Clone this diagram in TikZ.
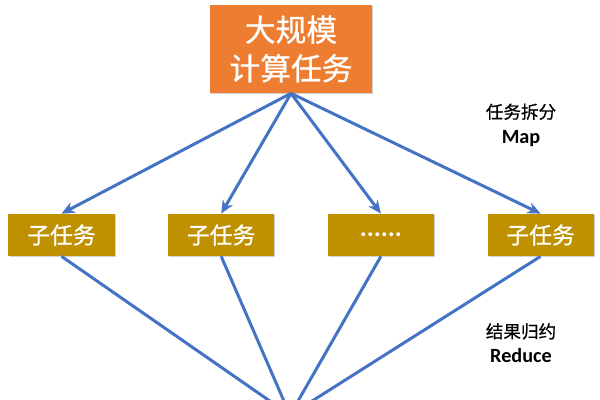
\documentclass[tikz,border=0pt]{standalone}
\usepackage{fontspec}
\setmainfont{Carlito}
\newfontfamily\cjk[FakeBold=0.7]{Noto Sans CJK SC}
\usepackage{xcolor}
\usetikzlibrary{arrows.meta, positioning, shadows}

\definecolor{taskorange}{HTML}{ED7D31}
\definecolor{subgold}{HTML}{BF9000}
\definecolor{linkblue}{HTML}{4472C4}

\begin{document}
\begin{tikzpicture}[
    node distance=1.06cm and 1.06cm,
    every node/.style={font=\cjk},
    box/.style={rectangle, text=white, align=center, inner sep=0pt,
        drop shadow={opacity=0.35, shadow xshift=0.6pt, shadow yshift=-0.8pt}},
    bigtask/.style={box, fill=taskorange, minimum width=3.24cm, minimum height=1.76cm,
        font=\cjk\fontsize{17.5pt}{22pt}\selectfont},
    subtask/.style={box, fill=subgold, minimum width=2.12cm, minimum height=0.84cm,
        font=\cjk\fontsize{13pt}{15pt}\selectfont},
    phase/.style={align=center, font=\cjk\fontsize{10pt}{14pt}\selectfont},
    arrow/.style={-{Stealth[length=7.5pt, width=6.5pt]}, linkblue, line width=1.7pt},
]
\useasboundingbox (0,0) rectangle (12,-8);

% === SPLIT ===
\node[bigtask] (job) at (5.82,-0.98) {大规模\\计算任务};

\node[subtask] (s1) at (1.23,-4.7) {子任务};
\node[subtask, right=of s1] (s2) {子任务};
\node[subtask, right=of s2] (s3) {{\rmfamily\bfseries\fontsize{15pt}{15pt}\selectfont ......}};
\node[subtask, right=of s3] (s4) {子任务};

\foreach \s in {s1,s2,s3,s4}
    \draw[arrow] (job.south) -- (\s.north);

\node[phase] (map_lbl) at (10.42,-2.5) {任务拆分\\{\rmfamily\bfseries\fontsize{11.5pt}{14pt}\selectfont Map}};

% === MERGE ===
\coordinate (merge) at (5.8,-8.3);

\foreach \s in {s1,s2,s3,s4}
    \draw[arrow] (\s.south) -- (merge);

\node[phase] (reduce_lbl) at (10.42,-6.86) {结果归约\\{\rmfamily\bfseries\fontsize{11.5pt}{14pt}\selectfont Reduce}};

\end{tikzpicture}
\end{document}
